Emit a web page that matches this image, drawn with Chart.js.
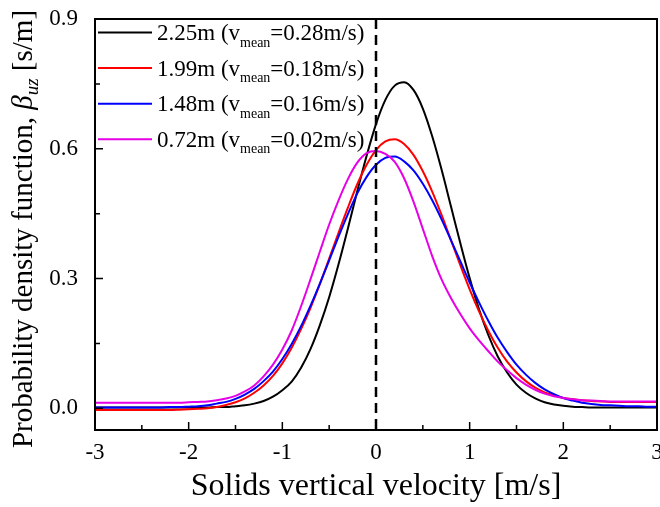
<!DOCTYPE html>
<html>
<head>
<meta charset="utf-8">
<script src="https://cdn.jsdelivr.net/npm/chart.js@4.4.1/dist/chart.umd.min.js"></script>
<style>
  html, body { margin: 0; padding: 0; background: #fff; }
  #pdfChart { display: block; }
</style>
</head>
<body>
<canvas id="pdfChart" width="660" height="507"></canvas>
<script>
const SERIF = '"Liberation Serif", "Times New Roman", serif';

// solids vertical velocity grid [m/s]
const velocity = [
  -3.0, -2.9, -2.8, -2.7, -2.6, -2.5, -2.4, -2.3, -2.2, -2.1,
  -2.0, -1.9, -1.8, -1.7, -1.6, -1.5, -1.4, -1.3, -1.2, -1.1,
  -1.0, -0.9, -0.8, -0.7, -0.6, -0.5, -0.4, -0.3, -0.2, -0.1,
  0.0, 0.1, 0.2, 0.3, 0.4, 0.5, 0.6, 0.7, 0.8, 0.9,
  1.0, 1.1, 1.2, 1.3, 1.4, 1.5, 1.6, 1.7, 1.8, 1.9,
  2.0, 2.1, 2.2, 2.3, 2.4, 2.5, 2.6, 2.7, 2.8, 2.9, 3.0
];

// probability density at each height
const pdf225 = [
  0.002, 0.002, 0.002, 0.002, 0.002, 0.002, 0.002, 0.002, 0.002, 0.002,
  0.002, 0.002, 0.002, 0.003, 0.003, 0.005, 0.007, 0.011, 0.017, 0.027,
  0.042, 0.062, 0.094, 0.137, 0.192, 0.257, 0.333, 0.416, 0.502, 0.584,
  0.657, 0.713, 0.746, 0.754, 0.736, 0.693, 0.629, 0.552, 0.467, 0.382,
  0.301, 0.229, 0.169, 0.120, 0.083, 0.055, 0.036, 0.023, 0.014, 0.009,
  0.006, 0.004, 0.003, 0.002, 0.002, 0.002, 0.002, 0.002, 0.002, 0.002, 0.002
];
const pdf199 = [
  -0.004, -0.004, -0.004, -0.004, -0.004, -0.004, -0.004, -0.004, -0.004, -0.003,
  -0.002, -0.001, 0.000, 0.003, 0.008, 0.014, 0.023, 0.036, 0.053, 0.075,
  0.104, 0.140, 0.183, 0.232, 0.287, 0.346, 0.406, 0.464, 0.518, 0.563,
  0.597, 0.617, 0.622, 0.611, 0.586, 0.548, 0.501, 0.447, 0.389, 0.331,
  0.275, 0.224, 0.179, 0.140, 0.108, 0.083, 0.063, 0.048, 0.037, 0.030,
  0.024, 0.021, 0.019, 0.017, 0.016, 0.015, 0.015, 0.015, 0.015, 0.015, 0.015
];
const pdf148 = [
  0.002, 0.002, 0.002, 0.002, 0.002, 0.002, 0.002, 0.002, 0.003, 0.003,
  0.004, 0.005, 0.007, 0.011, 0.015, 0.022, 0.032, 0.045, 0.063, 0.085,
  0.114, 0.149, 0.190, 0.237, 0.288, 0.342, 0.397, 0.449, 0.497, 0.535,
  0.563, 0.579, 0.582, 0.571, 0.550, 0.519, 0.481, 0.437, 0.389, 0.340,
  0.291, 0.245, 0.202, 0.163, 0.130, 0.101, 0.078, 0.059, 0.044, 0.033,
  0.024, 0.018, 0.013, 0.010, 0.008, 0.007, 0.006, 0.005, 0.005, 0.004, 0.004
];
const pdf072 = [
  0.013, 0.013, 0.013, 0.013, 0.013, 0.013, 0.013, 0.013, 0.013, 0.013,
  0.014, 0.015, 0.016, 0.019, 0.023, 0.029, 0.039, 0.053, 0.074, 0.101,
  0.136, 0.180, 0.236, 0.298, 0.362, 0.425, 0.481, 0.530, 0.568, 0.590,
  0.595, 0.588, 0.570, 0.532, 0.478, 0.415, 0.352, 0.298, 0.255, 0.218,
  0.185, 0.157, 0.132, 0.108, 0.088, 0.070, 0.055, 0.043, 0.034, 0.028,
  0.024, 0.021, 0.019, 0.018, 0.017, 0.016, 0.016, 0.016, 0.016, 0.016, 0.016
];

const heights = ["2.25m", "1.99m", "1.48m", "0.72m"];
const meanVelocity = ["0.28", "0.18", "0.16", "0.02"];
const seriesColors = ["#000000", "#ff0000", "#0000ff", "#e600e6"];

const xTicks = [-3, -2, -1, 0, 1, 2, 3];
const xMinorTicks = [-2.5, -1.5, -0.5, 0.5, 1.5, 2.5];
const yTicks = [0.0, 0.3, 0.6, 0.9];
const yMinorTicks = [0.15, 0.45, 0.75];

const seriesValues = [pdf225, pdf199, pdf148, pdf072];

// frame, inward ticks, dashed zero line, custom legend and y title
const decorations = {
  id: "decorations",
  afterDatasetsDraw(chart) {
    const { ctx, chartArea: a, scales: { x, y } } = chart;
    ctx.save();

    // dashed line at zero velocity
    const x0 = x.getPixelForValue(0);
    ctx.strokeStyle = "#000";
    ctx.lineWidth = 2.5;
    ctx.setLineDash([10, 6]);
    ctx.beginPath();
    ctx.moveTo(x0, a.top);
    ctx.lineTo(x0, a.bottom);
    ctx.stroke();
    ctx.setLineDash([]);

    // box
    ctx.lineWidth = 2;
    ctx.strokeRect(a.left, a.top, a.right - a.left, a.bottom - a.top);

    // tick marks pointing inward
    ctx.lineWidth = 1.5;
    ctx.beginPath();
    xTicks.forEach((v) => { const px = x.getPixelForValue(v); ctx.moveTo(px, a.bottom); ctx.lineTo(px, a.bottom - 8); });
    xMinorTicks.forEach((v) => { const px = x.getPixelForValue(v); ctx.moveTo(px, a.bottom); ctx.lineTo(px, a.bottom - 5); });
    yTicks.forEach((v) => { const py = y.getPixelForValue(v); ctx.moveTo(a.left, py); ctx.lineTo(a.left + 8, py); });
    yMinorTicks.forEach((v) => { const py = y.getPixelForValue(v); ctx.moveTo(a.left, py); ctx.lineTo(a.left + 5, py); });
    ctx.stroke();
    ctx.restore();
  },
  afterDraw(chart) {
    const { ctx, chartArea: a } = chart;
    ctx.save();
    ctx.fillStyle = "#000";
    ctx.textBaseline = "alphabetic";

    // legend rows with subscripted v_mean
    heights.forEach((h, i) => {
      const cy = 32.5 + i * 35.6;
      ctx.strokeStyle = seriesColors[i];
      ctx.lineWidth = 2;
      ctx.beginPath();
      ctx.moveTo(98, cy);
      ctx.lineTo(152, cy);
      ctx.stroke();

      let tx = 157;
      const base = cy + 7.5;
      ctx.font = `23px ${SERIF}`;
      const head = `${h} (v`;
      ctx.fillText(head, tx, base);
      tx += ctx.measureText(head).width;
      ctx.font = `14px ${SERIF}`;
      ctx.fillText("mean", tx, base + 6.5);
      tx += ctx.measureText("mean").width;
      ctx.font = `23px ${SERIF}`;
      ctx.fillText(`=${meanVelocity[i]}m/s)`, tx, base);
    });

    // rotated y axis title with italic beta and subscript
    const parts = [
      { text: "Probability density function, ", font: `29px ${SERIF}`, dy: 0 },
      { text: "\u03B2", font: `italic 29px ${SERIF}`, dy: 0 },
      { text: "uz", font: `italic 19px ${SERIF}`, dy: 6 },
      { text: " [s/m]", font: `29px ${SERIF}`, dy: 0 }
    ];
    let total = 0;
    parts.forEach((p) => { ctx.font = p.font; p.w = ctx.measureText(p.text).width; total += p.w; });
    ctx.translate(32, 229);
    ctx.rotate(-Math.PI / 2);
    let px = -total / 2;
    parts.forEach((p) => { ctx.font = p.font; ctx.fillText(p.text, px, p.dy); px += p.w; });
    ctx.restore();
  }
};

const ctx = document.getElementById("pdfChart").getContext("2d");
new Chart(ctx, {
  type: "line",
  data: {
    datasets: seriesValues.map((vals, i) => ({
      label: heights[i],
      data: velocity.map((v, j) => ({ x: v, y: vals[j] })),
      borderColor: seriesColors[i],
      borderWidth: 2,
      pointRadius: 0,
      fill: false,
      cubicInterpolationMode: "monotone",
      order: seriesValues.length - i
    }))
  },
  options: {
    responsive: false,
    animation: false,
    devicePixelRatio: 1,
    layout: { padding: { left: 0, top: 19, right: 3, bottom: 0 } },
    plugins: { legend: { display: false }, tooltip: { enabled: false } },
    scales: {
      x: {
        type: "linear",
        min: -3,
        max: 3,
        afterBuildTicks: (s) => { s.ticks = xTicks.map((v) => ({ value: v })); },
        afterFit: (s) => { s.height = 77; s.paddingLeft = 0; s.paddingRight = 0; },
        grid: { display: false },
        border: { display: false },
        ticks: { color: "#000", font: { family: SERIF, size: 23 }, padding: 1, maxRotation: 0 },
        title: {
          display: true,
          text: "Solids vertical velocity [m/s]",
          color: "#000",
          font: { family: SERIF, size: 32 },
          padding: { top: 0, bottom: 1 }
        }
      },
      y: {
        min: -0.05,
        max: 0.9,
        afterBuildTicks: (s) => { s.ticks = yTicks.map((v) => ({ value: v })); },
        afterFit: (s) => { s.width = 95; s.paddingTop = 0; s.paddingBottom = 0; },
        grid: { display: false },
        border: { display: false },
        ticks: { color: "#000", font: { family: SERIF, size: 23 }, padding: 9, callback: (v) => v.toFixed(1) }
      }
    }
  },
  plugins: [decorations]
});
</script>
</body>
</html>
